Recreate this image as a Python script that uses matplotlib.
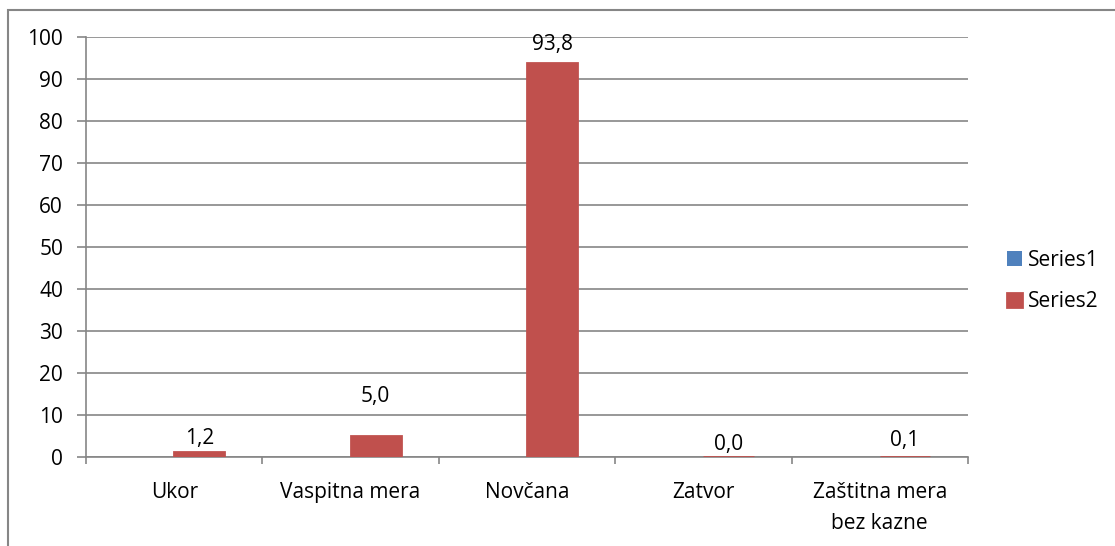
import matplotlib.pyplot as plt
import numpy as np
from matplotlib.patches import Rectangle

categories = ['Ukor', 'Vaspitna mera', 'Novčana', 'Zatvor', 'Zaštitna mera\nbez kazne']
series1 = [0, 0, 0, 0, 0]
series2 = [1.2, 5.0, 93.8, 0.04, 0.1]
labels2 = ['1,2', '5,0', '93,8', '0,0', '0,1']
label_y = [4.5, 14.3, 98.1, 2.9, 4.0]   # where excel put the data labels

blue = '#4F81BD'
red = '#C0504D'
grid = '#868686'
fs = 15

plt.rcParams['font.family'] = ['Open Sans', 'DejaVu Sans']

W, H = 1115, 546
fig = plt.figure(figsize=(W / 100, H / 100), dpi=100)

# chart area border (right/bottom edges fall outside the image)
fig.patches.append(Rectangle((8 / W, -0.1), 1.2, (H - 10) / H + 0.1,
                             transform=fig.transFigure, fill=False,
                             edgecolor=grid, linewidth=1.5))

ax = fig.add_axes([86 / W, (H - 457) / H, (968 - 86) / W, (457 - 37) / H])

x = np.arange(len(categories))
bw = 0.285
ax.bar(x - bw / 2, series1, bw, color=blue, label='Series1')
# thick edge so the near-zero bars still show like in excel
bars = ax.bar(x + bw / 2, series2, bw, color=red, edgecolor=red, linewidth=2,
              label='Series2', zorder=3)

for b, lab, ly in zip(bars, labels2, label_y):
    ax.text(b.get_x() + b.get_width() / 2, ly, lab,
            ha='center', va='center', fontsize=fs, color='black')

ax.set_xlim(-0.5, len(categories) - 0.5)
ax.set_ylim(0, 100)
ax.set_yticks(range(0, 101, 10))
ax.yaxis.grid(True, color=grid, linewidth=1.2)
ax.set_axisbelow(True)

ax.set_xticks(np.arange(-0.5, len(categories), 1))
ax.set_xticklabels([])
ax.set_xticks(x, minor=True)
ax.set_xticklabels(categories, minor=True, fontsize=fs, linespacing=1.6)
ax.tick_params(axis='x', which='minor', length=0, pad=18)
ax.tick_params(axis='x', which='major', length=5, color=grid, width=1.2)
ax.tick_params(axis='y', length=6.5, color=grid, width=1.2, labelsize=fs, pad=10)

for s in ['top', 'right']:
    ax.spines[s].set_visible(False)
for s in ['left', 'bottom']:
    ax.spines[s].set_color(grid)
    ax.spines[s].set_linewidth(1.2)

fig.legend(loc='center left', bbox_to_anchor=(1007 / W, (H - 281) / H),
           frameon=False, fontsize=fs, handlelength=0.7, handleheight=0.7,
           handletextpad=0.3, labelspacing=1.0, borderpad=0, borderaxespad=0)

fig.savefig('out.png', dpi=100)
